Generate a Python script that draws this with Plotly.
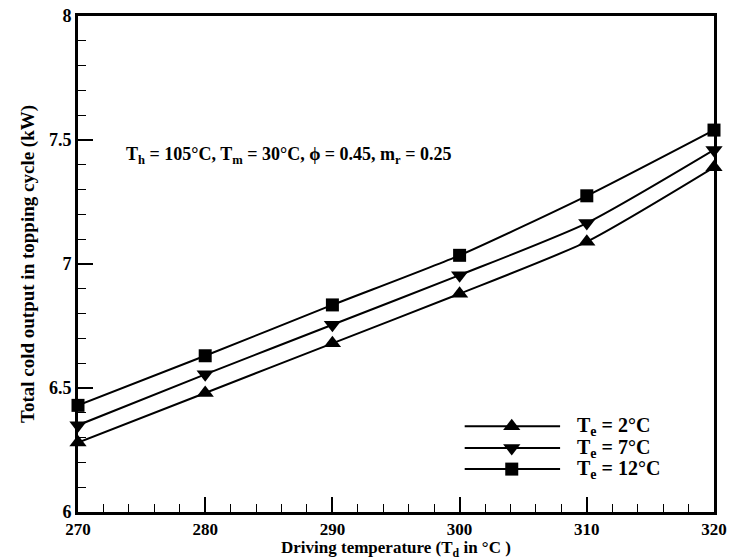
import plotly.graph_objects as go

td = [270, 280, 290, 300, 310, 320]
te2 = [6.28, 6.48, 6.68, 6.88, 7.09, 7.39]
te7 = [6.35, 6.555, 6.755, 6.955, 7.165, 7.46]
te12 = [6.43, 6.63, 6.835, 7.035, 7.275, 7.54]
names = ["T<sub>e</sub> = 2°C", "T<sub>e</sub> = 7°C", "T<sub>e</sub> = 12°C"]
symbols = ["triangle-up", "triangle-down", "square"]
x_ticks = [270, 280, 290, 300, 310, 320]
y_ticks = [6, 6.5, 7, 7.5, 8]
y_tick_text = ["6", "6.5", "7", "7.5", "8"]

FONT = "Liberation Serif"
fig = go.Figure()
for ys, sym in zip([te2, te7, te12], symbols):
    fig.add_trace(go.Scatter(
        x=td, y=ys, mode="lines+markers",
        line=dict(color="black", width=2, shape="spline", smoothing=0.6),
        marker=dict(symbol=sym, size=15 if sym != "square" else 13, color="black"),
        showlegend=False, cliponaxis=False))

# manual legend (hidden 0..1 axis)
leg_y = [0.173, 0.129, 0.0865]
for i, (nm, sym) in enumerate(zip(names, symbols)):
    fig.add_trace(go.Scatter(
        x=[0.608, 0.682, 0.758], y=[leg_y[i]] * 3, mode="lines",
        line=dict(color="black", width=2), xaxis="x2", yaxis="y2",
        showlegend=False, hoverinfo="skip"))
    fig.add_trace(go.Scatter(
        x=[0.682], y=[leg_y[i]], mode="markers",
        marker=dict(symbol=sym, size=15 if sym != "square" else 13, color="black"),
        xaxis="x2", yaxis="y2", showlegend=False, hoverinfo="skip"))
    fig.add_annotation(x=0.782, y=leg_y[i], xref="x2", yref="y2", text=nm,
                       showarrow=False, xanchor="left", yanchor="middle",
                       font=dict(family=FONT, size=20, color="black", weight="bold"))

fig.add_annotation(x=0.072, y=0.718, xref="paper", yref="paper",
                   text="T<sub>h</sub> = 105°C, T<sub>m</sub> = 30°C, ϕ = 0.45, m<sub>r</sub> = 0.25",
                   showarrow=False, xanchor="left", yanchor="middle",
                   font=dict(family=FONT, size=18, color="black", weight="bold"))

fig.add_annotation(x=0.5, y=-0.098, xref="paper", yref="paper",
                   text="Driving temperature (T<sub>d</sub> in °C )",
                   showarrow=False, xanchor="center", yanchor="bottom",
                   borderpad=0,
                   font=dict(family=FONT, size=17, color="black", weight="bold"))

fig.update_layout(
    width=733, height=560,
    margin=dict(l=78, r=19, t=16, b=48),
    paper_bgcolor="white", plot_bgcolor="white",
    font=dict(family=FONT, color="black"),
    xaxis=dict(range=[270, 320], tickvals=x_ticks, ticktext=[str(v) for v in x_ticks],
               ticks="inside", ticklen=15, tickwidth=2, tickcolor="black",
               minor=dict(dtick=2, ticks="inside", ticklen=8, tickwidth=1, tickcolor="black"),
               showline=True, linewidth=3, linecolor="black", mirror=True, showgrid=False,
               zeroline=False, automargin=False,
               tickfont=dict(family=FONT, size=17, weight="bold")),
    yaxis=dict(range=[6, 8], tickvals=y_ticks, ticktext=y_tick_text,
               ticks="inside", ticklen=15, tickwidth=2, tickcolor="black",
               minor=dict(dtick=0.1, ticks="inside", ticklen=8, tickwidth=1, tickcolor="black"),
               showline=True, linewidth=3, linecolor="black", mirror=True, showgrid=False,
               zeroline=False, automargin=False,
               tickfont=dict(family=FONT, size=18, weight="bold"),
               title=dict(text="Total cold output in topping cycle (kW)",
                          font=dict(family=FONT, size=19, weight="bold"), standoff=10)),
    xaxis2=dict(range=[0, 1], overlaying="x", visible=False),
    yaxis2=dict(range=[0, 1], overlaying="y", visible=False),
)
fig.write_html("out.html")
